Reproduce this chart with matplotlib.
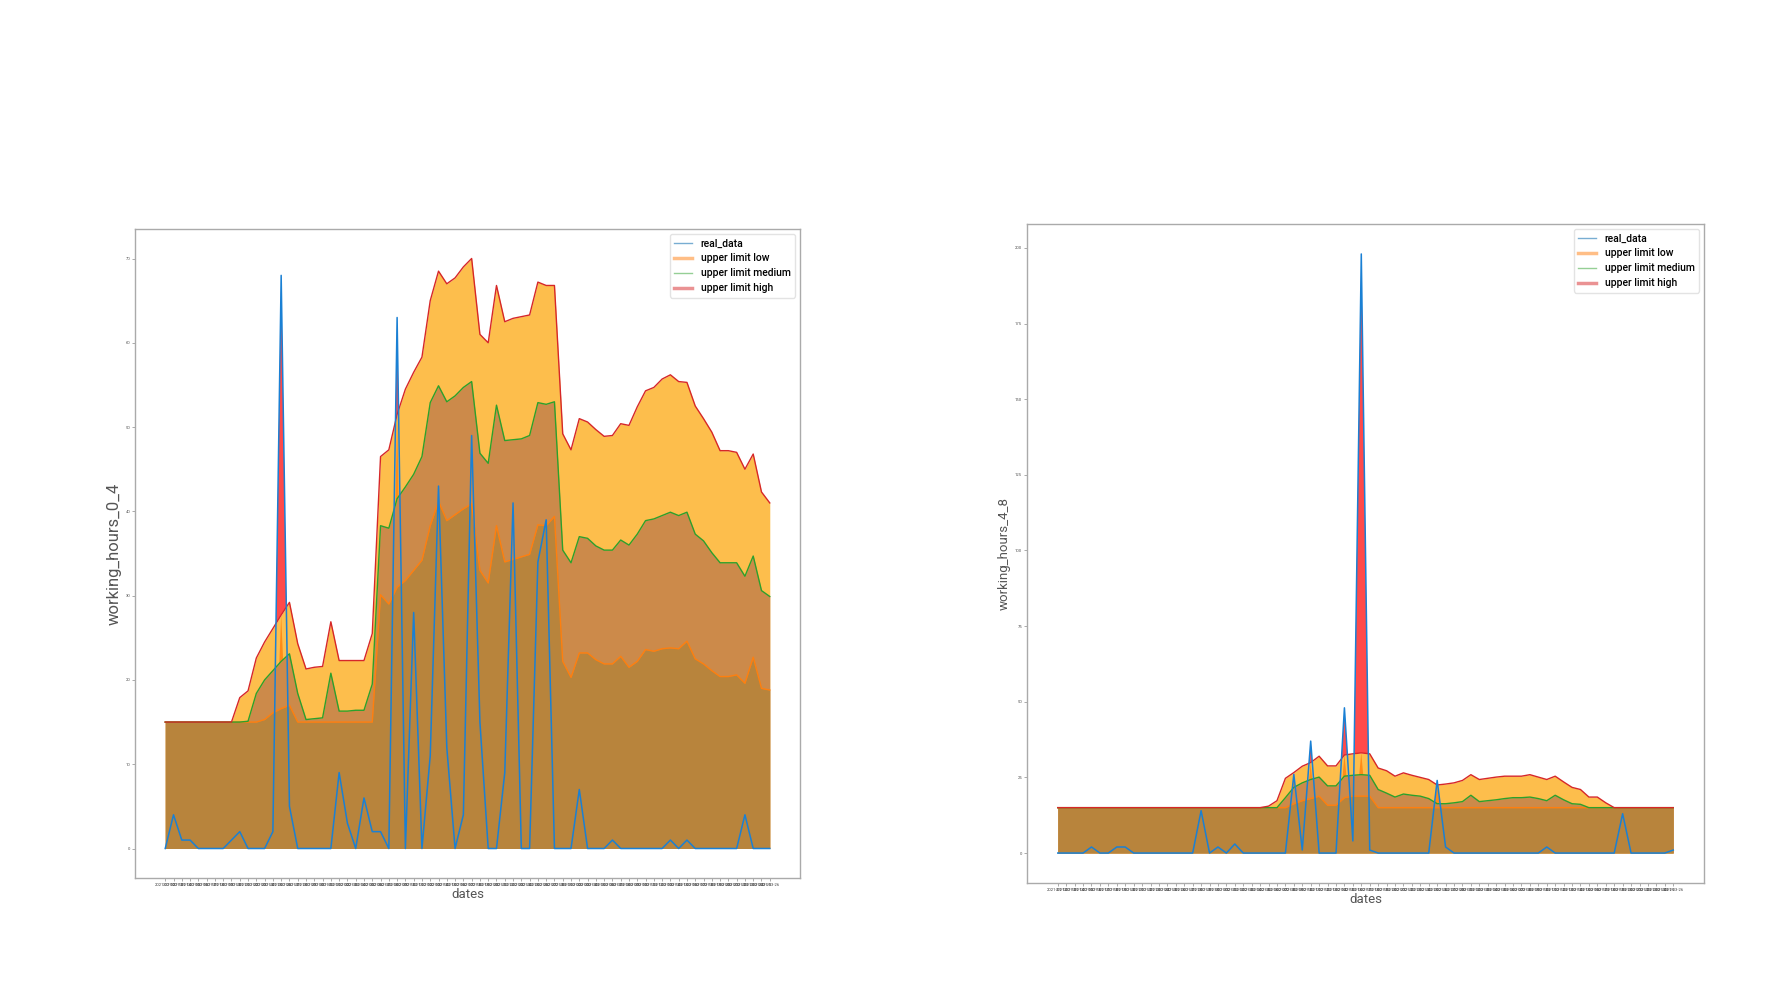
import matplotlib.pyplot as plt
import numpy as np
import pandas as pd

plt.rcParams['font.family'] = ['Roboto', 'DejaVu Sans']

# dates on the x axis (one label per day)
dates = [d.strftime('%Y-%m-%d') for d in pd.date_range('2021-01-12', '2021-03-26')]

# working_hours_0_4
real_0_4 = [0, 4, 1, 1, 0, 0, 0, 0, 1, 2, 0, 0, 0, 2, 68, 5, 0, 0, 0, 0,
            0, 9, 3, 0, 6, 2, 2, 0, 63, 0, 28, 0, 11, 43, 12, 0, 4, 49, 15, 0,
            0, 9, 41, 0, 0, 34, 39, 0, 0, 0, 7, 0, 0, 0, 1, 0, 0, 0, 0, 0,
            0, 1, 0, 1, 0, 0, 0, 0, 0, 0, 4, 0, 0, 0]
low_0_4 = [15, 15, 15, 15, 15, 15, 15, 15, 15, 15, 15, 15, 15.3, 16.1, 16.6, 17, 15, 15, 15, 15,
           15, 15, 15, 15, 15, 15, 30.1, 29, 31, 31.8, 33, 34.2, 38.3, 41.2, 38.9, 39.6, 40.3, 40.9, 33, 31.5,
           38.3, 34, 34.3, 34.6, 34.9, 38.4, 38.3, 39.4, 22.2, 20.3, 23.2, 23.2, 22.4, 21.9, 21.9, 22.8, 21.5, 22.2, 23.6, 23.4,
           23.7, 23.8, 23.7, 24.6, 22.5, 21.9, 21.1, 20.4, 20.4, 20.6, 19.6, 22.7, 19, 18.8]
medium_0_4 = [15, 15, 15, 15, 15, 15, 15, 15, 15, 15, 15.1, 18.4, 20, 21.1, 22.2, 23.1, 18.4, 15.3, 15.4, 15.5,
              20.8, 16.3, 16.3, 16.4, 16.4, 19.5, 38.3, 38, 41.5, 42.9, 44.4, 46.5, 52.9, 54.9, 53, 53.7, 54.7, 55.4, 46.9, 45.7,
              52.6, 48.4, 48.5, 48.6, 49, 52.9, 52.7, 53, 35.4, 33.9, 37, 36.8, 35.9, 35.4, 35.4, 36.6, 36, 37.3, 38.9, 39.1,
              39.5, 39.9, 39.5, 39.9, 37.3, 36.5, 35.1, 33.9, 33.9, 33.9, 32.3, 34.7, 30.6, 29.9]
high_0_4 = [15, 15, 15, 15, 15, 15, 15, 15, 15, 17.9, 18.7, 22.6, 24.5, 26.1, 27.7, 29.2, 24.3, 21.3, 21.5, 21.6,
            26.9, 22.3, 22.3, 22.3, 22.3, 25.5, 46.5, 47.3, 51.5, 54.5, 56.5, 58.3, 65, 68.5, 67, 67.7, 69, 70, 61, 60,
            66.8, 62.5, 62.9, 63.1, 63.3, 67.2, 66.8, 66.8, 49.2, 47.3, 51, 50.6, 49.7, 48.9, 49, 50.4, 50.2, 52.4, 54.3, 54.7,
            55.7, 56.2, 55.4, 55.3, 52.5, 51, 49.4, 47.2, 47.2, 47, 45, 46.8, 42.3, 41]

# working_hours_4_8
real_4_8 = [0, 0, 0, 0, 2, 0, 0, 2, 2, 0, 0, 0, 0, 0, 0, 0, 0, 14, 0, 2,
            0, 3, 0, 0, 0, 0, 0, 0, 26, 1, 37, 0, 0, 0, 48, 4, 198, 1, 0, 0,
            0, 0, 0, 0, 0, 24, 2, 0, 0, 0, 0, 0, 0, 0, 0, 0, 0, 0, 2, 0,
            0, 0, 0, 0, 0, 0, 0, 13, 0, 0, 0, 0, 0, 1]
low_4_8 = [15, 15, 15, 15, 15, 15, 15, 15, 15, 15, 15, 15, 15, 15, 15, 15, 15, 15, 15, 15,
           15, 15, 15, 15, 15, 15, 15, 15, 16.3, 17.3, 18, 18.8, 15.8, 15.8, 18.3, 18.8, 18.8, 18.8, 15, 15,
           15, 15, 15, 15, 15, 15, 15, 15, 15, 15, 15, 15, 15, 15, 15, 15, 15, 15, 15, 15,
           15, 15, 15, 15, 15, 15, 15, 15, 15, 15, 15, 15, 15, 15]
medium_4_8 = [15, 15, 15, 15, 15, 15, 15, 15, 15, 15, 15, 15, 15, 15, 15, 15, 15, 15, 15, 15,
              15, 15, 15, 15, 15, 15, 15, 18.3, 21.7, 23.2, 24.3, 25.1, 22.2, 22.2, 25.4, 25.7, 25.9, 25.7, 21, 19.8,
              18.5, 19.5, 19.1, 18.8, 18, 16.3, 16.3, 16.6, 17, 19.1, 17, 17.3, 17.6, 18, 18.3, 18.3, 18.5, 18, 17.3, 19.1,
              17.6, 16.3, 16.1, 15, 15, 15, 15, 15, 15, 15, 15, 15, 15, 15]
high_4_8 = [15, 15, 15, 15, 15, 15, 15, 15, 15, 15, 15, 15, 15, 15, 15, 15, 15, 15, 15, 15,
            15, 15, 15, 15, 15, 15.5, 17.3, 24.7, 26.6, 28.7, 29.9, 32, 28.8, 28.8, 32.4, 32.8, 33.1, 32.8, 28.1, 27.2,
            25.4, 26.5, 25.7, 25, 24.3, 22.5, 22.8, 23.2, 24, 25.9, 24.3, 24.7, 25.1, 25.4, 25.4, 25.4, 25.9, 25.1, 24.3, 25.4,
            23.5, 21.7, 21, 18.5, 18.5, 16.6, 15, 15, 15, 15, 15, 15, 15, 15]


def draw(ax, real, low, medium, high, ylabel, yticks, ylabel_size):
    x = np.arange(len(dates))
    real = np.array(real, dtype=float)
    low = np.array(low, dtype=float)
    medium = np.array(medium, dtype=float)
    high = np.array(high, dtype=float)

    ax.fill_between(x, 0, high, color='#fdbe4c', lw=0)
    ax.fill_between(x, 0, medium, color='#cc8a4a', lw=0)
    ax.fill_between(x, 0, low, color='#b8843c', lw=0)
    # parts of real data above the limits
    ax.fill_between(x, medium, np.minimum(real, high), where=real > medium,
                    interpolate=True, color='#ff8c17', lw=0)
    ax.fill_between(x, high, real, where=real > high, interpolate=True,
                    color='#ff4a4a', lw=0)

    ax.plot(x, low, color='#ff7f0e', lw=1.0)
    ax.plot(x, medium, color='#2ca02c', lw=1.0)
    ax.plot(x, high, color='#d62728', lw=1.0)
    ax.plot(x, real, color='#1a80d4', lw=1.1)

    ax.set_xticks(x)
    ax.set_xticklabels(dates, fontsize=3, color='#444444')
    ax.set_yticks(yticks)
    ax.set_yticklabels([str(t) for t in yticks], fontsize=3, color='#555555')
    ax.tick_params(length=2, width=0.5, color='#888888', pad=1.5)
    for s in ax.spines.values():
        s.set_color('#aaaaaa')
        s.set_linewidth(1)
    ax.set_xlabel('dates', fontsize=9.5, color='#555555', labelpad=1)
    ax.set_ylabel(ylabel, fontsize=ylabel_size, color='#555555', labelpad=3)

    handles = [
        plt.Line2D([], [], color='#1f77b4', lw=1, alpha=0.6),
        plt.Line2D([], [], color='#ff7f0e', lw=2.5, alpha=0.5),
        plt.Line2D([], [], color='#2ca02c', lw=1, alpha=0.5),
        plt.Line2D([], [], color='#d62728', lw=2.5, alpha=0.5),
    ]
    ax.legend(handles, ['real_data', 'upper limit low', 'upper limit medium', 'upper limit high'],
              loc='upper right', frameon=True, edgecolor='#dddddd',
              prop={'size': 7.5, 'weight': 'medium'},
              handlelength=1.8, borderpad=0.4, labelspacing=0.48)


fig = plt.figure(figsize=(17.89, 9.9), dpi=100)
ax1 = fig.add_axes([135 / 1789, 1 - 878 / 990, (800 - 135) / 1789, (878 - 229) / 990])
ax2 = fig.add_axes([1027 / 1789, 1 - 883 / 990, (1704 - 1027) / 1789, (883 - 224) / 990])

draw(ax1, real_0_4, low_0_4, medium_0_4, high_0_4, 'working_hours_0_4', list(range(0, 71, 10)), 12)
draw(ax2, real_4_8, low_4_8, medium_4_8, high_4_8, 'working_hours_4_8', list(range(0, 201, 25)), 9.5)

fig.savefig('out.png', dpi=100)
